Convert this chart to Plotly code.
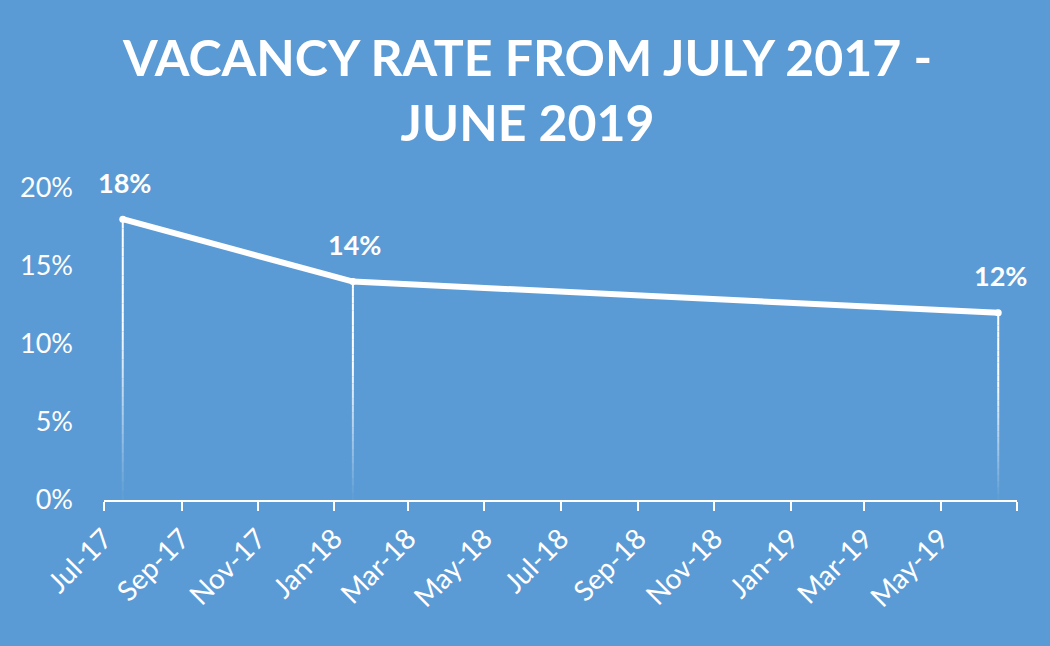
import plotly.graph_objects as go

dates = ["2017-07-16", "2018-01-16", "2019-06-16"]
values = [0.18, 0.14, 0.12]
labels = ["18%", "14%", "12%"]
title_text = "VACANCY RATE FROM JULY 2017 -<br>JUNE 2019"
x_range = ["2017-07-01", "2019-07-01"]
x_tickvals = ["2017-07-01", "2017-09-01", "2017-11-01", "2018-01-01", "2018-03-01",
              "2018-05-01", "2018-07-01", "2018-09-01", "2018-11-01", "2019-01-01",
              "2019-03-01", "2019-05-01", "2019-07-01"]
x_ticktext = ["Jul-17", "Sep-17", "Nov-17", "Jan-18", "Mar-18", "May-18", "Jul-18",
              "Sep-18", "Nov-18", "Jan-19", "Mar-19", "May-19", ""]
y_ticks = [0, 0.05, 0.10, 0.15, 0.20]
y_ticklabels = ["0%", "5%", "10%", "15%", "20%"]

BG = "#5B9BD5"
FONT = "Lato"

fig = go.Figure()

# gradient drop lines
N = 30
shapes = []
for d, v in zip(dates, values):
    for k in range(N):
        y0 = v * k / N
        y1 = v * (k + 1) / N
        t = (k + 0.5) / N
        op = min(1.0, t * 1.6)
        shapes.append(dict(type="line", xref="x", yref="y", x0=d, x1=d, y0=y0, y1=y1,
                           line=dict(color="white", width=2), opacity=op, layer="below"))

fig.add_trace(go.Scatter(
    x=dates, y=values, mode="lines+markers",
    line=dict(color="white", width=6),
    marker=dict(color="white", size=7),
    cliponaxis=False, hoverinfo="skip",
))

annotations = []
for d, v, lab in zip(dates, values, labels):
    annotations.append(dict(x=d, y=v, xref="x", yref="y", text=lab, showarrow=False,
                            yshift=37, xshift=2,
                            font=dict(family=FONT, size=27, color="white", weight="bold")))
annotations.append(dict(text=title_text, xref="paper", yref="paper",
                        x=(527 - 104) / 913, y=1 + (188 - 89.5) / 312,
                        xanchor="center", yanchor="middle", showarrow=False,
                        font=dict(family=FONT, size=50, color="white", weight="bold")))

fig.update_layout(
    width=1050, height=646,
    paper_bgcolor=BG, plot_bgcolor=BG,
    margin=dict(l=104, r=33, t=188, b=146),
    showlegend=False,
    shapes=shapes,
    annotations=annotations,
    font=dict(family=FONT, color="white"),
)
fig.update_xaxes(
    type="date", range=x_range, tickvals=x_tickvals, ticktext=x_ticktext,
    tickangle=-45, tickfont=dict(family=FONT, size=28, color="white"),
    showline=True, linecolor="white", linewidth=2,
    ticks="outside", tickcolor="white", ticklen=9, tickwidth=2,
    showgrid=False, zeroline=False,
)
fig.update_yaxes(
    range=[0, 0.2], tickvals=y_ticks, ticktext=y_ticklabels,
    tickfont=dict(family=FONT, size=27, color="white"),
    showgrid=False, zeroline=False, showline=False, ticks="", ticklabelstandoff=30,
)

fig.write_html("out.html", config={"displayModeBar": False},
               post_script="document.body.style.margin='0';")
